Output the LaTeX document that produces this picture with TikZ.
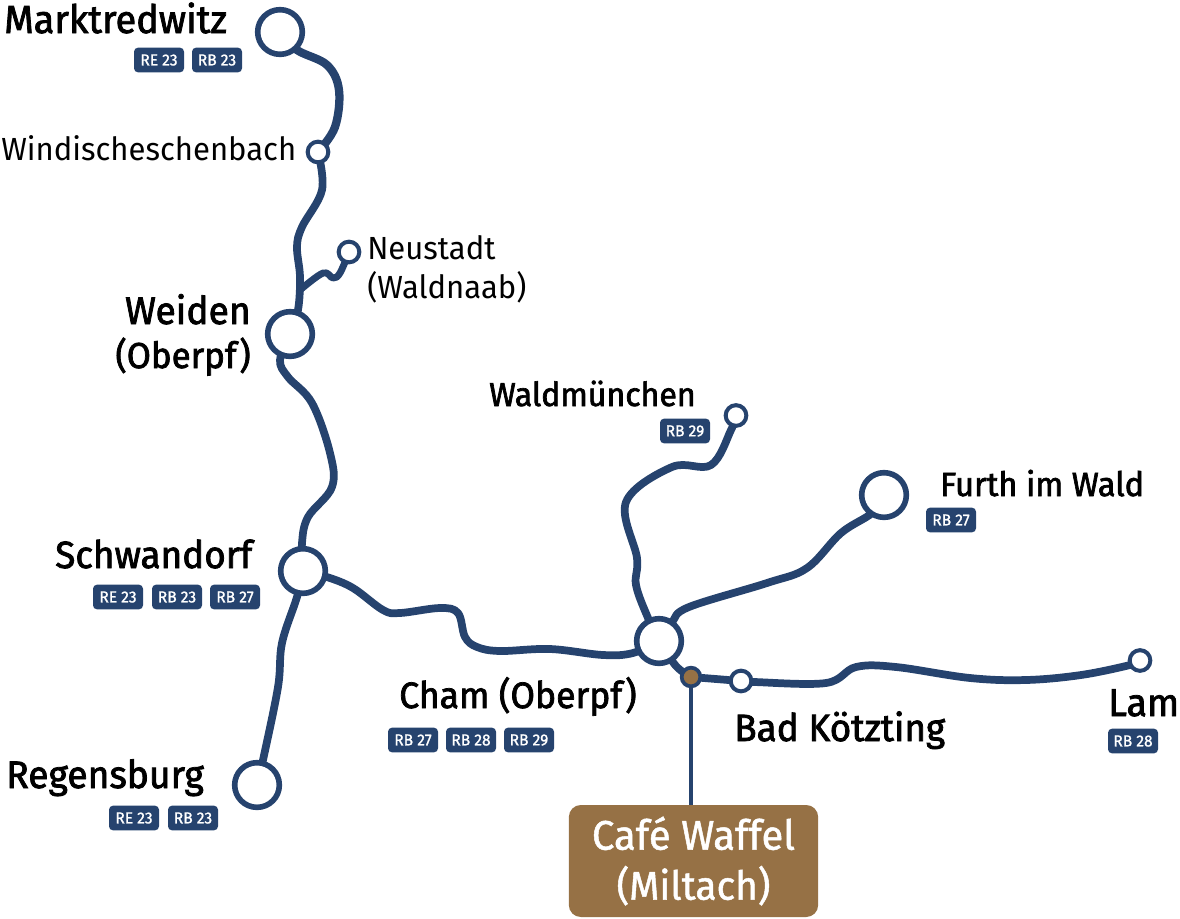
\documentclass[tikz,border=0pt]{standalone}
\usepackage{fontspec}
\setmainfont{Fira Sans}
\newfontfamily\medf[FakeBold=2,FakeStretch=0.97]{Fira Sans}
\newfontfamily\semf[FakeBold=1.2,FakeStretch=0.97]{Fira Sans}
\newfontfamily\regf[FakeStretch=0.97]{Fira Sans}
\usetikzlibrary{backgrounds}
\definecolor{navy}{HTML}{26436E}
\definecolor{cafe}{HTML}{967145}
\tikzset{x=0.75pt,y=-0.75pt,
 big/.style={circle,draw=navy,line width=4.2pt,fill=white,minimum size=33.5pt,inner sep=0pt},
 small/.style={circle,draw=navy,line width=3pt,fill=white,minimum size=15.5pt,inner sep=0pt},
 track/.style={draw=navy,line width=5.8pt,line cap=round,line join=round},
 strong/.style={font=\medf\fontsize{#1}{32}\selectfont,text=black,inner sep=0pt},
 plain/.style={font=\regf\fontsize{#1}{29.25}\selectfont,text=black,inner sep=0pt,align=left},
 badge/.style={fill=navy,rounded corners=3pt,minimum width=37.5pt,minimum height=18.5pt,inner sep=0pt,text=white,font=\semf\fontsize{12}{12}\selectfont}}
\begin{document}
\begin{tikzpicture}
\useasboundingbox (0,0) rectangle (1180,918);
% stations
\node[big] (mak) at (280,32) {};
\node[small] (win) at (318,152) {};
\node[small] (neu) at (349,252) {};
\node[big] (wei) at (290,334) {};
\node[big] (sch) at (303,571) {};
\node[big] (reg) at (257,785) {};
\node[small] (wal) at (736,415.5) {};
\node[big] (fur) at (884,495) {};
\node[big] (cha) at (659,641) {};
\node[small] (lam) at (1140,660.5) {};
\node[small] (koe) at (741,681) {};
\node[small,fill=cafe,minimum size=14pt,line width=2.8pt] (mil) at (691,677) {};
\node[fill=cafe,rounded corners=9pt,minimum width=187pt,minimum height=84pt,inner sep=0pt,text=white,align=center,font=\semf\fontsize{31}{37.5}\selectfont] (box) at (693.5,861) {Café Waffel\\{\fontsize{30}{37.5}\selectfont (Miltach)}};
\begin{scope}[on background layer]
\draw[track,line width=6.2pt] plot[smooth,tension=0.6] coordinates {(mak) (297,50) (327,65) (339,90) (335,127) (win)};
\draw[track] plot[smooth,tension=0.6] coordinates {(win) (322,190) (302,227) (297,247) (300,277) (298,310) (wei)};
\draw[track,line width=5.2pt] plot[smooth,tension=0.6] coordinates {(neu) (340,273) (333,278) (323,273) (300,290)};
\draw[track] plot[smooth,tension=0.6] coordinates {(wei) (280,360) (288,377) (312,403) (330,453) (332,487) (308,517) (302,543) (sch)};
\draw[track] plot[smooth,tension=0.6] coordinates {(sch) (297,597) (282,643) (278,687) (263,760) (reg)};
\draw[track] plot[smooth,tension=0.6] coordinates {(sch) (327,577) (353,588) (383,610) (400,613) (440,608) (458,613) (465,637) (477,647) (500,651) (550,649) (603,655) (633,653) (cha)};
\draw[track] plot[smooth,tension=0.6] coordinates {(cha) (648,618) (636,585) (637,558) (626,502) (672,467) (711,465) (731,430) (wal)};
\draw[track] plot[smooth,tension=0.6] coordinates {(cha) (672,622) (689,607) (767,583) (807,568) (841,533) (872,513) (fur)};
\draw[track] plot[smooth,tension=0.6] coordinates {(cha) (676,666) (mil)};
\draw[track] (mil) -- (koe);
\draw[track] plot[smooth,tension=0.6] coordinates {(koe) (754,682) (826,683) (856,667) (896,667) (970,678) (1026,680) (1081,675) (1130,665) (lam)};
\draw[draw=navy,line width=2.4pt] (mil) -- (mil |- box.north);
\end{scope}
% labels
\node[strong=29.3,anchor=base west] (lmak) at (4,33) {Marktredwitz};
\node[plain=24,anchor=base west] (lwin) at (1,160) {Windischeschenbach};
\node[plain=24,anchor=north west] (lneu) at (367,235) {Neustadt\\(Waldnaab)};
\node[strong=28.8,anchor=base east] (lwei) at (251,324) {Weiden};
\node[strong=27,anchor=base east] (lobe) at (251,368) {(Oberpf)};
\node[strong=28.5,anchor=base west] (lsch) at (55,568) {Schwandorf};
\node[strong=28.8,anchor=base west] (lreg) at (6,788) {Regensburg};
\node[strong=24.8,anchor=base west] (lwal) at (489,406) {Waldmünchen};
\node[strong=25.2,anchor=base west] (lfur) at (940,496) {Furth im Wald};
\node[strong=27.5,anchor=base west] (lcha) at (399,708) {Cham (Oberpf)};
\node[strong=28.5,anchor=base west] (lkoe) at (734,741) {Bad Kötzting};
\node[strong=29,anchor=base west] (llam) at (1108,716) {Lam};
% badges
\node[badge] (b1) at (159,60) {RE 23};
\node[badge] (b2) at (217,60) {RB 23};
\node[badge] (b3) at (118,597) {RE 23};
\node[badge] (b4) at (177,597) {RB 23};
\node[badge] (b5) at (235,597) {RB 27};
\node[badge] (b6) at (134,818) {RE 23};
\node[badge] (b7) at (193,818) {RB 23};
\node[badge] (b8) at (413,740) {RB 27};
\node[badge] (b9) at (471,740) {RB 28};
\node[badge] (b10) at (529,740) {RB 29};
\node[badge] (b11) at (685,431) {RB 29};
\node[badge] (b12) at (951,520) {RB 27};
\node[badge] (b13) at (1133,741) {RB 28};
\end{tikzpicture}
\end{document}
